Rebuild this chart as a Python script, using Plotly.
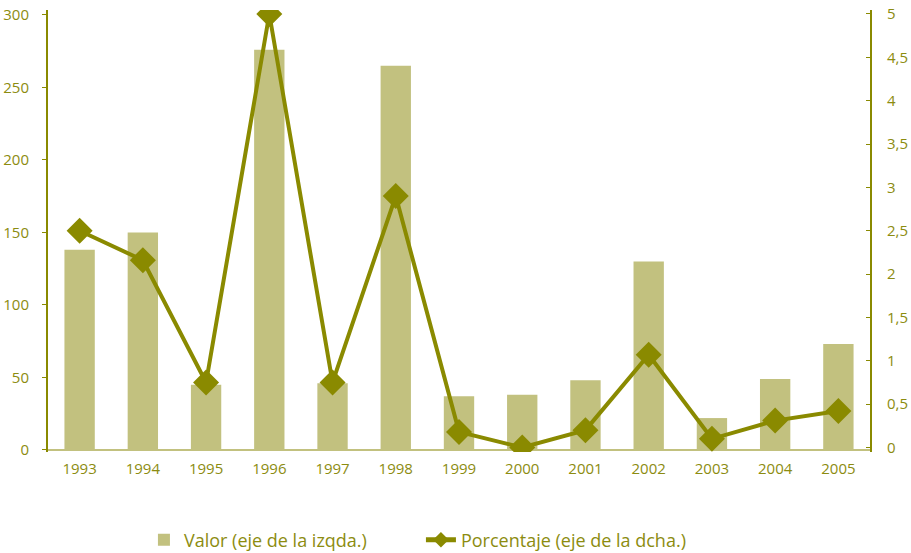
import plotly.graph_objects as go

# Datos
anios = ['1993', '1994', '1995', '1996', '1997', '1998', '1999',
         '2000', '2001', '2002', '2003', '2004', '2005']
valor = [138, 150, 45, 276, 46, 265, 37, 38, 48, 130, 22, 49, 73]
porcentaje = [2.5, 2.16, 0.75, 5.0, 0.75, 2.9, 0.18, 0.0, 0.2, 1.07, 0.1, 0.31, 0.42]

oliva = '#8a8a00'
oliva_claro = '#c2c17f'
texto = '#8c8c10'

fig = go.Figure()

fig.add_trace(go.Bar(x=anios, y=valor, name='Valor (eje de la izqda.)',
                     marker=dict(color=oliva_claro, line=dict(width=0)),
                     width=0.48, yaxis='y'))

fig.add_trace(go.Scatter(x=anios, y=porcentaje, name='Porcentaje (eje de la dcha.)',
                         mode='lines+markers', yaxis='y2',
                         line=dict(color=oliva, width=4),
                         marker=dict(symbol='diamond', size=20, color=oliva)))

fig.update_layout(
    width=911, height=553,
    margin=dict(l=48, r=41, t=10, b=101),
    plot_bgcolor='white', paper_bgcolor='white',
    font=dict(family='Open Sans', size=14, color=texto),
    separators=',.',
    showlegend=True,
    legend=dict(orientation='h', xref='container', yref='container',
                x=0.158, y=0.0235, xanchor='left', yanchor='middle',
                font=dict(size=18, color=texto), entrywidth=232,
                itemsizing='constant'),
    xaxis=dict(type='category', range=[-0.5, 12.5], showline=False,
               showgrid=False, ticks='', tickfont=dict(size=15),
               ticklabelstandoff=6, automargin=False),
    yaxis=dict(range=[-1.4, 303.4], tickvals=[0, 50, 100, 150, 200, 250, 300],
               showgrid=False, showline=True, linecolor=oliva, linewidth=2,
               ticks='outside', ticklen=4, tickcolor=oliva,
               ticklabelstandoff=10, automargin=False, ticklabeloverflow='allow',
               tickfont=dict(size=15),
               zeroline=True, zerolinecolor=oliva_claro, zerolinewidth=2),
    yaxis2=dict(overlaying='y', side='right', range=[-0.052, 5.046],
                tickvals=[0, 0.5, 1, 1.5, 2, 2.5, 3, 3.5, 4, 4.5, 5],
                showgrid=False, showline=True, linecolor=oliva, linewidth=2,
                ticks='inside', ticklen=4, tickcolor=oliva,
                ticklabelstandoff=12, automargin=False, ticklabeloverflow='allow',
                tickfont=dict(size=15), zeroline=False),
    bargap=0.5,
)

# quitar el margen del body para que la figura empiece en (0, 0)
fig.write_html('out.html', config={'displayModeBar': False},
               post_script="document.body.style.margin='0';")
